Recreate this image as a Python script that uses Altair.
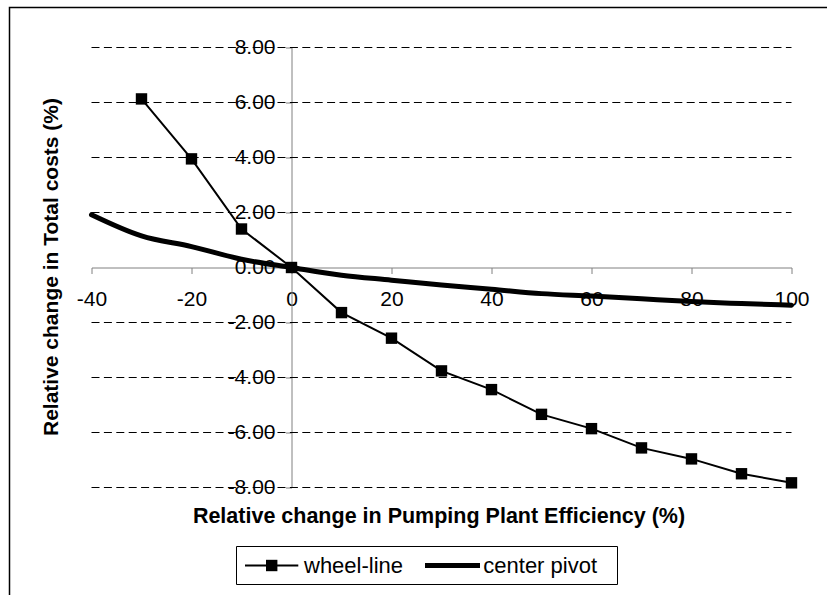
import altair as alt
import pandas as pd

# Relative change in pumping plant efficiency (%) and resulting change in total costs (%)
wheel_x = [-30, -20, -10, 0, 10, 20, 30, 40, 50, 60, 70, 80, 90, 100]
wheel_y = [6.13, 3.95, 1.40, 0.00, -1.64, -2.57, -3.76, -4.44, -5.34, -5.86, -6.56, -6.96, -7.50, -7.83]
pivot_x = [-40, -30, -20, -10, 0, 10, 20, 30, 40, 50, 60, 70, 80, 90, 100]
pivot_y = [1.92, 1.15, 0.76, 0.30, 0.00, -0.28, -0.46, -0.64, -0.79, -0.95, -1.04, -1.14, -1.24, -1.31, -1.37]
series_names = ["wheel-line", "center pivot"]

x_domain = [-40, 100]
y_domain = [-8, 8]
x_ticks = [-40, -20, 0, 20, 40, 60, 80, 100]
y_ticks = [-8, -6, -4, -2, 0, 2, 4, 6, 8]
grid_values = [v for v in y_ticks if v != 0]

x_title = "Relative change in Pumping Plant Efficiency (%)"
y_title = "Relative change in Total costs (%)"

FONT = "Liberation Sans"
W, H = 700, 440

wheel = pd.DataFrame({"x": wheel_x, "y": wheel_y})
pivot = pd.DataFrame({"x": pivot_x, "y": pivot_y})
grid = pd.DataFrame({"y": grid_values, "x0": x_domain[0], "x1": x_domain[1]})

xs = alt.Scale(domain=x_domain, nice=False, zero=False)
ys = alt.Scale(domain=y_domain, nice=False, zero=False)

# axes cross at the origin: pull them into the plot with negative offsets
x_axis = alt.Axis(
    values=x_ticks, title=None, grid=False,
    labelExpr="replace(format(datum.value, 'd'), '\u2212', '-')",
    offset=-(H * (0 - y_domain[0]) / (y_domain[1] - y_domain[0])),
    domainColor="#808080", tickColor="#808080", tickSize=6,
    labelPadding=14.5, labelFont=FONT, labelFontSize=21, labelColor="black",
    labelFlush=False, labelOverlap=False,
)
y_axis = alt.Axis(
    values=y_ticks, title=None, grid=False,
    labelExpr="replace(format(datum.value, '.2f'), '\u2212', '-')",
    offset=-(W * (0 - x_domain[0]) / (x_domain[1] - x_domain[0])),
    domainColor="#808080", tickColor="#808080", tickSize=6,
    labelPadding=10.5, labelFont=FONT, labelFontSize=21, labelColor="black",
    labelFlush=False, labelOverlap=False,
)

X = lambda f: alt.X(f, type="quantitative", scale=xs, axis=x_axis)
Y = lambda f: alt.Y(f, type="quantitative", scale=ys, axis=y_axis)

gridlines = alt.Chart(grid).mark_rule(color="black", strokeWidth=1, strokeDash=[8, 4.4]).encode(
    x=X("x0"), x2="x1", y=Y("y")
)

pivot_line = alt.Chart(pivot).mark_line(
    color="black", strokeWidth=5, interpolate="monotone", strokeCap="round"
).encode(x=X("x"), y=Y("y"))

wheel_line = alt.Chart(wheel).mark_line(color="black", strokeWidth=2).encode(x=X("x"), y=Y("y"))
wheel_pts = alt.Chart(wheel).mark_point(
    shape="square", filled=True, size=130, color="black", opacity=1
).encode(x=X("x"), y=Y("y"))

# axis titles
x_title_mark = alt.Chart().mark_text(
    text=x_title, font=FONT, fontSize=21.5, fontWeight="bold", color="black", baseline="middle"
).encode(x=alt.value(347.5), y=alt.value(469.2))
y_title_mark = alt.Chart().mark_text(
    text=y_title, font=FONT, fontSize=21, fontWeight="bold", color="black",
    angle=270, baseline="middle"
).encode(x=alt.value(-39.5), y=alt.value(219.5))

# outer frame of the chart area
frame = alt.Chart().mark_rect(fill="transparent", stroke="black", strokeWidth=1.5).encode(
    x=alt.value(-82), x2=alt.value(760), y=alt.value(-40), y2=alt.value(580)
)

# legend
leg_box = alt.Chart().mark_rect(fill="white", stroke="black", strokeWidth=1).encode(
    x=alt.value(145), x2=alt.value(526), y=alt.value(499), y2=alt.value(537)
)
leg_y = 518
leg_wheel_line = alt.Chart().mark_rule(color="black", strokeWidth=2).encode(
    x=alt.value(153.5), x2=alt.value(206.8), y=alt.value(leg_y)
)
leg_wheel_pt = alt.Chart().mark_point(
    shape="square", filled=True, size=130, color="black", opacity=1
).encode(x=alt.value(180.2), y=alt.value(leg_y))
leg_wheel_txt = alt.Chart().mark_text(
    text=series_names[0], font=FONT, fontSize=22, align="left", baseline="middle", color="black"
).encode(x=alt.value(212.5), y=alt.value(leg_y))
leg_pivot_line = alt.Chart().mark_rule(color="black", strokeWidth=5).encode(
    x=alt.value(333.5), x2=alt.value(388.5), y=alt.value(leg_y)
)
leg_pivot_txt = alt.Chart().mark_text(
    text=series_names[1], font=FONT, fontSize=22, align="left", baseline="middle", color="black"
).encode(x=alt.value(391.8), y=alt.value(leg_y))

chart = alt.layer(
    frame, gridlines, pivot_line, wheel_line, wheel_pts,
    x_title_mark, y_title_mark,
    leg_box, leg_wheel_line, leg_wheel_pt, leg_wheel_txt, leg_pivot_line, leg_pivot_txt,
).properties(
    width=W, height=H,
    autosize=alt.AutoSizeParams(type="none"),
    padding={"left": 91.5, "top": 47.5, "right": 35.5, "bottom": 107.5},
    background="white",
).configure_view(strokeWidth=0)

chart.save("out.html", embed_options={"renderer": "svg", "actions": False})
